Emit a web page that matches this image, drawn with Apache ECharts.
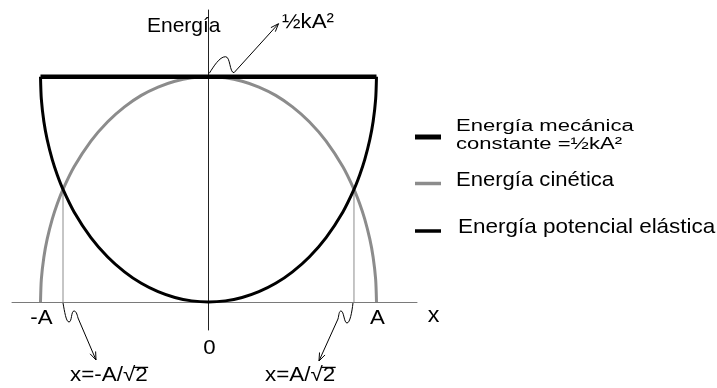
<!DOCTYPE html>
<html>
<head>
<meta charset="utf-8">
<script src="https://cdn.jsdelivr.net/npm/echarts@6/dist/echarts.min.js"></script>
<style>
  html, body { margin: 0; padding: 0; background: #fff; }
  #chart { width: 717px; height: 388px; }
</style>
</head>
<body>
<div id="chart"></div>
<script>
// Position along the oscillation, in units of the amplitude A
const positions = [-1, -0.995, -0.98, -0.96, -0.93, -0.9, -0.866, -0.8, -0.7, -0.6, -0.5, -0.4, -0.3, -0.2, -0.1, 0,
                   0.1, 0.2, 0.3, 0.4, 0.5, 0.6, 0.7, 0.8, 0.866, 0.9, 0.93, 0.96, 0.98, 0.995, 1];
// Energies in units of ½kA²
const kinetic = [0, 0.100, 0.199, 0.280, 0.368, 0.436, 0.500, 0.600, 0.714, 0.800, 0.866, 0.917, 0.954, 0.980, 0.995, 1.000,
                 0.995, 0.980, 0.954, 0.917, 0.866, 0.800, 0.714, 0.600, 0.500, 0.436, 0.368, 0.280, 0.199, 0.100, 0];
const potential = [1.000, 0.900, 0.801, 0.720, 0.632, 0.564, 0.500, 0.400, 0.286, 0.200, 0.134, 0.083, 0.046, 0.020, 0.005, 0.000,
                   0.005, 0.020, 0.046, 0.083, 0.134, 0.200, 0.286, 0.400, 0.500, 0.564, 0.632, 0.720, 0.801, 0.900, 1.000];
const mechanicalX = [-1, 1];
const mechanical = [1, 1];

// Points where kinetic and potential energy are equal
const crossings = [-0.866, 0.866];
const crossingEnergy = 0.5;
const crossingLabels = ['x=-A/√', 'x=A/√'];
const radicand = '2';

const tickValues = [-1, 0, 1];
const tickLabels = ['-A', '0', 'A'];
const axisNames = ['Energía', 'x'];
const topLabel = '½kA²';
const legendNames = ['Energía mecánica', 'constante =½kA²', 'Energía cinética', 'Energía potencial elástica'];

const GRAY = '#8c8c8c';
const FONT = '"Liberation Sans", Arial, Helvetica, sans-serif';

const zip = (xs, ys) => xs.map((x, i) => [x, ys[i]]);

const chart = echarts.init(document.getElementById('chart'), null, { renderer: 'canvas' });

chart.setOption({
  animation: false,
  backgroundColor: '#fff',
  grid: { left: 12, right: 300, top: 10, bottom: 58 },
  xAxis: {
    type: 'value', min: -1.1696, max: 1.2411,
    axisLine: { onZero: true, lineStyle: { color: '#7a7a7a', width: 1 } },
    axisTick: { show: false }, axisLabel: { show: false }, splitLine: { show: false }
  },
  yAxis: {
    type: 'value', min: -0.1243, max: 1.2961,
    axisLine: { onZero: true, lineStyle: { color: '#222', width: 1 } },
    axisTick: { show: false }, axisLabel: { show: false }, splitLine: { show: false }
  },
  series: [
    {
      name: 'guide', type: 'line', symbol: 'none', silent: true, z: 1,
      data: [[crossings[0], 0], [crossings[0], crossingEnergy], null, [crossings[1], crossingEnergy], [crossings[1], 0]],
      connectNulls: false,
      lineStyle: { color: GRAY, width: 1 }
    },
    {
      name: legendNames[2], type: 'line', symbol: 'none', smooth: 0.25, z: 2,
      data: zip(positions, kinetic),
      lineStyle: { color: GRAY, width: 3 }
    },
    {
      name: legendNames[3], type: 'line', symbol: 'none', smooth: 0.25, z: 3,
      data: zip(positions, potential),
      lineStyle: { color: '#000', width: 3 }
    },
    {
      name: legendNames[0], type: 'line', symbol: 'none', z: 4,
      data: zip(mechanicalX, mechanical),
      lineStyle: { color: '#000', width: 4.5 }
    }
  ]
});

const px = (v) => chart.convertToPixel({ gridIndex: 0 }, v);

const measureCtx = document.createElement('canvas').getContext('2d');
function textWidth(text, fs) {
  measureCtx.font = fs + 'px ' + FONT;
  return measureCtx.measureText(text).width;
}

function label(text, x, y, o) {
  o = o || {};
  const fs = o.fs || 21;
  const align = o.align || 'center';
  return {
    type: 'text', x: x, y: y, z: 20,
    scaleX: o.sx || 1.06, scaleY: o.sy || 1,
    style: {
      text: text, font: fs + 'px ' + FONT, fill: '#000',
      align: align, verticalAlign: 'middle'
    }
  };
}

const thin = { stroke: '#000', fill: null, lineWidth: 1 };

// A wavy leader: cubic segments [c1, c2, end] from "start", then a straight run to "tip" with an open head
function leader(anchor, start, curves, tip) {
  const out = [];
  let p = start;
  curves.forEach(function (c) {
    out.push({
      type: 'bezierCurve', x: anchor[0], y: anchor[1], z: 15,
      shape: { x1: p[0], y1: p[1], cpx1: c[0][0], cpy1: c[0][1], cpx2: c[1][0], cpy2: c[1][1], x2: c[2][0], y2: c[2][1] },
      style: thin
    });
    p = c[2];
  });
  out.push({
    type: 'line', x: anchor[0], y: anchor[1], z: 15,
    shape: { x1: p[0], y1: p[1], x2: tip[0], y2: tip[1] },
    style: thin
  });
  const dx = tip[0] - p[0], dy = tip[1] - p[1];
  const len = Math.hypot(dx, dy);
  const ux = dx / len, uy = dy / len;
  const L = 8, W = 3;
  const bx = tip[0] - ux * L, by = tip[1] - uy * L;
  out.push({
    type: 'polyline', x: anchor[0], y: anchor[1], z: 15,
    shape: { points: [[bx - uy * W, by + ux * W], tip, [bx + uy * W, by - ux * W]] },
    style: thin
  });
  return out;
}

// "x=±A/√2" with the radical's bar over the 2
function rootLabel(prefix, x, y) {
  const fs = 20, sx = 1.12;
  const w0 = textWidth(prefix, fs) * sx;
  const w1 = textWidth(radicand, fs) * sx;
  return [
    label(prefix + radicand, x, y, { align: 'left', sx: sx, fs: fs }),
    {
      type: 'line', z: 20,
      shape: { x1: x + w0 - 1.5, y1: y - 7.6, x2: x + w0 + w1 + 0.5, y2: y - 7.6 },
      style: { stroke: '#000', lineWidth: 1.3 }
    }
  ];
}

function legendRow(y, color, width) {
  return {
    type: 'line', z: 15,
    shape: { x1: 415, y1: y, x2: 441, y2: y },
    style: { stroke: color, lineWidth: width }
  };
}

const origin = px([0, 0]);
const peak = px([0, 1]);
const leftCross = px([crossings[0], 0]);
const rightCross = px([crossings[1], 0]);

let g = [];

// axis titles and tick labels
g.push(label(axisNames[0], 147, 26, { align: 'left', sx: 1.0 }));
g.push(label(axisNames[1], px([1.34, 0])[0], origin[1] + 14, { fs: 22 }));
tickValues.forEach((v, i) => {
  const p = px([v, 0]);
  const dy = v === 0 ? 46 : 16;
  g.push(label(tickLabels[i], p[0] + 1, p[1] + dy, { fs: 21 }));
});

// annotation for the maximum energy
g = g.concat(leader(peak, [0.8, -3.4],
  [[[5, -10], [11, -20], [17, -20]], [[22, -20], [21, -4], [25.5, -4]]], [70, -53]));
g.push(label(topLabel, 282, 22.5, { align: 'left', fs: 21 }));

// annotations for the equal-energy points
g = g.concat(leader(leftCross, [0, 1],
  [[[1.5, 9], [3, 20], [6, 20]], [[9, 20], [8, 9], [11, 9]], [[13, 9], [14, 12], [15, 16]]], [33, 58]));
g = g.concat(leader(rightCross, [-1, 1],
  [[[-2, 10], [-4, 21], [-7, 21]], [[-10, 21], [-10, 9], [-13, 9]], [[-15, 9], [-15, 13], [-16, 17]]], [-35, 59]));
g = g.concat(rootLabel(crossingLabels[0], 70, 375));
g = g.concat(rootLabel(crossingLabels[1], 265, 375));

// legend
g.push(legendRow(137, '#000', 5));
g.push(label(legendNames[0], 456, 126.3, { align: 'left', sx: 1.05, sy: 0.82 }));
g.push(label(legendNames[1], 456, 144, { align: 'left', sx: 1.05, sy: 0.82 }));
g.push(legendRow(183.5, GRAY, 3.5));
g.push(label(legendNames[2], 456, 180.4, { align: 'left', sx: 1.05 }));
g.push(legendRow(231, '#000', 3.5));
g.push(label(legendNames[3], 458, 227.7, { align: 'left', sx: 1.07 }));

chart.setOption({ graphic: { elements: g } });
</script>
</body>
</html>
